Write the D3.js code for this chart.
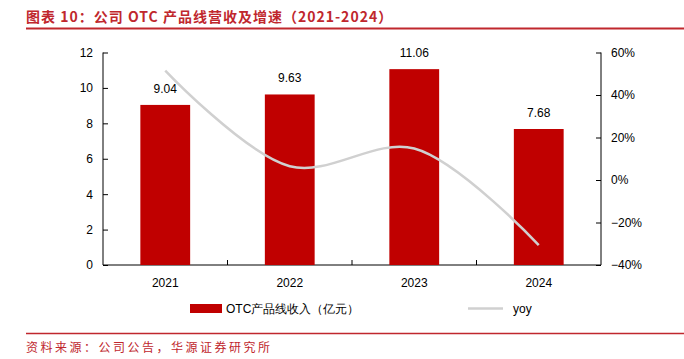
<!DOCTYPE html>
<html><head><meta charset="utf-8">
<script src="https://cdn.jsdelivr.net/npm/d3@7"></script>
<style>body{margin:0;background:#fff;}svg{display:block;font-family:"Liberation Sans",Arial,sans-serif;}</style>
</head><body><svg id="c" width="684" height="359"></svg>
<script>
const categories = ["2021","2022","2023","2024"];
const revenue = [9.04, 9.63, 11.06, 7.68];
const yoy = [0.515, 0.065, 0.148, -0.306];
const leftTicks = [0,2,4,6,8,10,12];
const rightTicks = [-0.4,-0.2,0,0.2,0.4,0.6];
const titleText = "图表 10：公司 OTC 产品线营收及增速（2021-2024）";
const sourceText = "资料来源：公司公告，华源证券研究所";
const legendBar = "OTC产品线收入（亿元）";
const legendLine = "yoy";

const svg = d3.select("#c");
const red = "#c00000", tRed = "#c0272d";
const L = 103, R = 601, T = 52.5, B = 265;

svg.append("text").attr("x",26).attr("y",22).attr("fill",tRed)
  .attr("font-family","'Noto Sans CJK SC',sans-serif").attr("font-weight","bold")
  .attr("font-size",14).attr("letter-spacing",1).text(titleText);
svg.append("line").attr("x1",26).attr("x2",684).attr("y1",28.5).attr("y2",28.5).attr("stroke",tRed).attr("stroke-width",2);

const x = d3.scaleBand().domain(categories).range([L,R]).paddingInner(0.6).paddingOuter(0.3);
const yL = d3.scaleLinear().domain([0,12]).range([B,T]);
const yR = d3.scaleLinear().domain([-0.4,0.6]).range([B,T]);

svg.append("g").attr("transform",`translate(${L},0)`)
  .call(d3.axisLeft(yL).tickValues(leftTicks).tickSize(-5).tickPadding(10))
  .call(g=>{g.selectAll("text").attr("font-size",12).attr("fill","#000");g.selectAll("line,path").attr("stroke","#000");g.select("path").attr("d",`M0,${T}V${B}`);});
svg.append("g").attr("transform",`translate(${R},0)`)
  .call(d3.axisRight(yR).tickValues(rightTicks).tickSize(-5).tickPadding(10).tickFormat(d3.format(".0%")))
  .call(g=>{g.selectAll("text").attr("font-size",12).attr("fill","#000");g.selectAll("line,path").attr("stroke","#000");g.select("path").attr("d",`M0,${T}V${B}`);});

// x axis
const xg = svg.append("g");
xg.append("line").attr("x1",L).attr("x2",R).attr("y1",B).attr("y2",B).attr("stroke","#000");
const step = x.step();
categories.forEach((c,i)=>{
  if(i>0){ const bx = L + step*i; xg.append("line").attr("x1",bx).attr("x2",bx).attr("y1",B).attr("y2",B-5).attr("stroke","#000"); }
  xg.append("text").attr("x",x(c)+x.bandwidth()/2).attr("y",B+22).attr("text-anchor","middle").attr("font-size",12).text(c);
});

svg.selectAll("rect.bar").data(categories).join("rect").attr("class","bar")
  .attr("x",d=>x(d)).attr("width",x.bandwidth())
  .attr("y",(d,i)=>yL(revenue[i])).attr("height",(d,i)=>B-yL(revenue[i])).attr("fill",red);
svg.selectAll("text.lbl").data(categories).join("text").attr("class","lbl")
  .attr("x",d=>x(d)+x.bandwidth()/2).attr("y",(d,i)=>yL(revenue[i])-12)
  .attr("text-anchor","middle").attr("font-size",12).text((d,i)=>revenue[i].toFixed(2));

const line = d3.line().x((d,i)=>x(categories[i])+x.bandwidth()/2).y(d=>yR(d)).curve(d3.curveCatmullRom.alpha(0.5));
svg.append("path").attr("d",line(yoy)).attr("fill","none").attr("stroke","#d0d0d0").attr("stroke-width",2.5);

// legend
svg.append("rect").attr("x",190).attr("y",304).attr("width",32).attr("height",9).attr("fill",red);
svg.append("text").attr("x",226).attr("y",313).attr("font-size",12).text(legendBar);
svg.append("line").attr("x1",468).attr("x2",503).attr("y1",308.5).attr("y2",308.5).attr("stroke","#d0d0d0").attr("stroke-width",2.5);
svg.append("text").attr("x",513).attr("y",313).attr("font-size",12).text(legendLine);

svg.append("line").attr("x1",26).attr("x2",684).attr("y1",333.5).attr("y2",333.5).attr("stroke",tRed).attr("stroke-width",1.5);
svg.append("text").attr("x",26).attr("y",352).attr("fill",tRed)
  .attr("font-family","'Noto Sans CJK SC',sans-serif").attr("font-size",12).attr("letter-spacing",2.5).text(sourceText);
</script></body></html>
